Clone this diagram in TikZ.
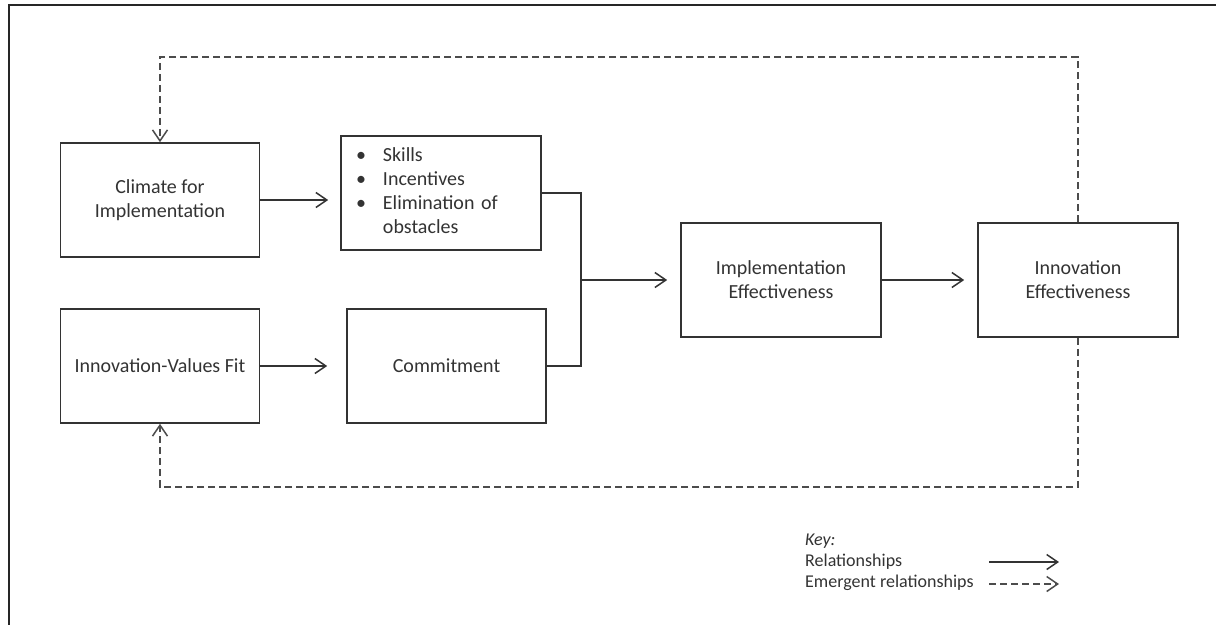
\documentclass[tikz,border=0pt]{standalone}
\usepackage{fontspec}
\setmainfont{Carlito}
\usetikzlibrary{arrows.meta}

\begin{document}
\begin{tikzpicture}[x=1pt, y=-1pt,
  box/.style={draw=black!80, line width=1.6pt, fill=white, inner sep=0pt,
    minimum width=199pt, minimum height=115pt, align=center,
    font=\fontsize{20}{24}\selectfont, text=black!80},
  rel/.style={draw=black!80, line width=1.6pt, -{Straight Barb[length=11pt, width=15pt, line width=1.5pt]}},
  link/.style={draw=black!80, line width=1.6pt},
  emerg/.style={draw=black!70, line width=1.7pt, dash pattern=on 7pt off 4pt,
    -{Straight Barb[length=11pt, width=15pt, line width=1.5pt]}},
  keytext/.style={anchor=west, inner sep=0pt, font=\fontsize{18}{21}\selectfont, text=black!80}
]
\useasboundingbox (0,0) rectangle (1216,625);

% outer frame (open at right and bottom)
\draw[black!85, line width=1.5pt] (1216,5) -- (9,5) -- (9,625);

% boxes
\node[box, minimum height=114pt] (climate) at (160,200) {Climate for\\Implementation};
\node[box, minimum width=200pt, minimum height=114pt, text width=170pt, align=left] (skills) at (441,193)
  {\begin{tabular}{@{}l@{\hspace{17pt}}l@{}}
     \textbullet & Skills\\
     \textbullet & Incentives\\
     \textbullet & Elimination of\\
                 & obstacles
   \end{tabular}};
\node[box, minimum height=114pt] (ivf) at (160,366) {Innovation-Values Fit};
\node[box, minimum height=114pt] (commit) at (446.5,366) {Commitment};
\node[box, minimum width=200pt, minimum height=114pt] (impl) at (781,280) {Implementation\\Effectiveness};
\node[box, minimum width=200pt, minimum height=114pt] (innov) at (1078,280) {Innovation\\Effectiveness};

% relationships
\draw[rel] (climate.east) -- ([xshift=-12pt]skills.west |- climate.east);
\draw[rel] (ivf.east) -- ([xshift=-19pt]commit.west);
\coordinate (j) at (581,280);
\draw[link] (skills.east) -| (j) |- (commit.east);
\draw[rel] (j) -- ([xshift=-13pt]impl.west);
\draw[rel] (impl.east) -- ([xshift=-13pt]innov.west);

% emergent relationships
\coordinate (tl) at (160,57);
\coordinate (bl) at (160,487);
\draw[emerg] (innov.north) |- (tl) -- (climate.north);
\draw[emerg] (innov.south) |- (bl) -- (ivf.south);

% key
\node[keytext, font=\fontsize{18}{21}\selectfont\itshape] (keyhead) at (805,541) {Key:};
\node[keytext] (keyrel) at (805,562) {Relationships};
\node[keytext] (keyem) at (805,583) {Emergent relationships};
\coordinate (ra) at (989,562);
\coordinate (rb) at (1059,562);
\coordinate (ea) at (989,584);
\coordinate (eb) at (1059,584);
\draw[rel] (ra) -- (rb);
\draw[emerg] (ea) -- (eb);
\end{tikzpicture}
\end{document}
